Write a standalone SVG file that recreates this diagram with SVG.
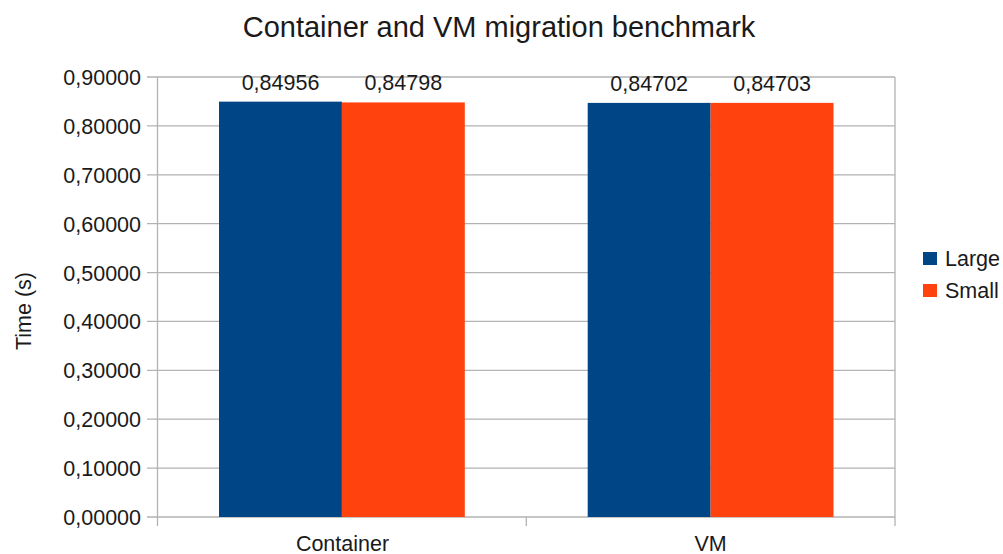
<svg xmlns="http://www.w3.org/2000/svg" width="1003" height="554" viewBox="0 0 1003 554">
<style>
text{font-family:"Liberation Sans",Arial,sans-serif;fill:#1a1a1a}
.t{font-size:29px}
.a{font-size:21.5px}
.grid{stroke:#b3b3b3;stroke-width:1.3;fill:none}
.large{fill:#004586}
.small{fill:#ff420e}
</style>
<rect width="1003" height="554" fill="#fff"/>
<text id="title" class="t" x="499" y="37" text-anchor="middle">Container and VM migration benchmark</text>
<g id="grid" class="grid">
<path d="M147 77H895M147 125.9H895M147 174.8H895M147 223.7H895M147 272.6H895M147 321.4H895M147 370.3H895M147 419.2H895M147 468.1H895M147 517H895"/>
<path d="M157.5 77V526M526.3 517V526M895 77V526"/>
</g>
<g id="yaxis" class="a" text-anchor="end">
<text x="141" y="85">0,90000</text>
<text x="141" y="133.9">0,80000</text>
<text x="141" y="182.8">0,70000</text>
<text x="141" y="231.7">0,60000</text>
<text x="141" y="280.6">0,50000</text>
<text x="141" y="329.4">0,40000</text>
<text x="141" y="378.3">0,30000</text>
<text x="141" y="427.2">0,20000</text>
<text x="141" y="476.1">0,10000</text>
<text x="141" y="525">0,00000</text>
</g>
<text id="ytitle" class="a" transform="translate(31 311) rotate(-90)" text-anchor="middle">Time (s)</text>
<g id="container">
<rect class="large" x="219" y="101.65" width="122.9" height="415.35"/>
<rect class="small" x="341.9" y="102.42" width="122.9" height="414.58"/>
<text class="a" x="280.5" y="90" text-anchor="middle">0,84956</text>
<text class="a" x="403.3" y="90" text-anchor="middle">0,84798</text>
<text class="a" x="342.5" y="551" text-anchor="middle">Container</text>
</g>
<g id="vm">
<rect class="large" x="587.7" y="102.89" width="122.9" height="414.11"/>
<rect class="small" x="710.6" y="102.88" width="122.9" height="414.12"/>
<text class="a" x="649.2" y="91" text-anchor="middle">0,84702</text>
<text class="a" x="772.1" y="91" text-anchor="middle">0,84703</text>
<text class="a" x="710.6" y="551" text-anchor="middle">VM</text>
</g>
<g id="legend">
<rect class="large" x="923" y="252" width="14" height="13"/>
<text class="a" x="945" y="266">Large</text>
<rect class="small" x="923" y="284" width="14" height="13"/>
<text class="a" x="945" y="298">Small</text>
</g>
</svg>
